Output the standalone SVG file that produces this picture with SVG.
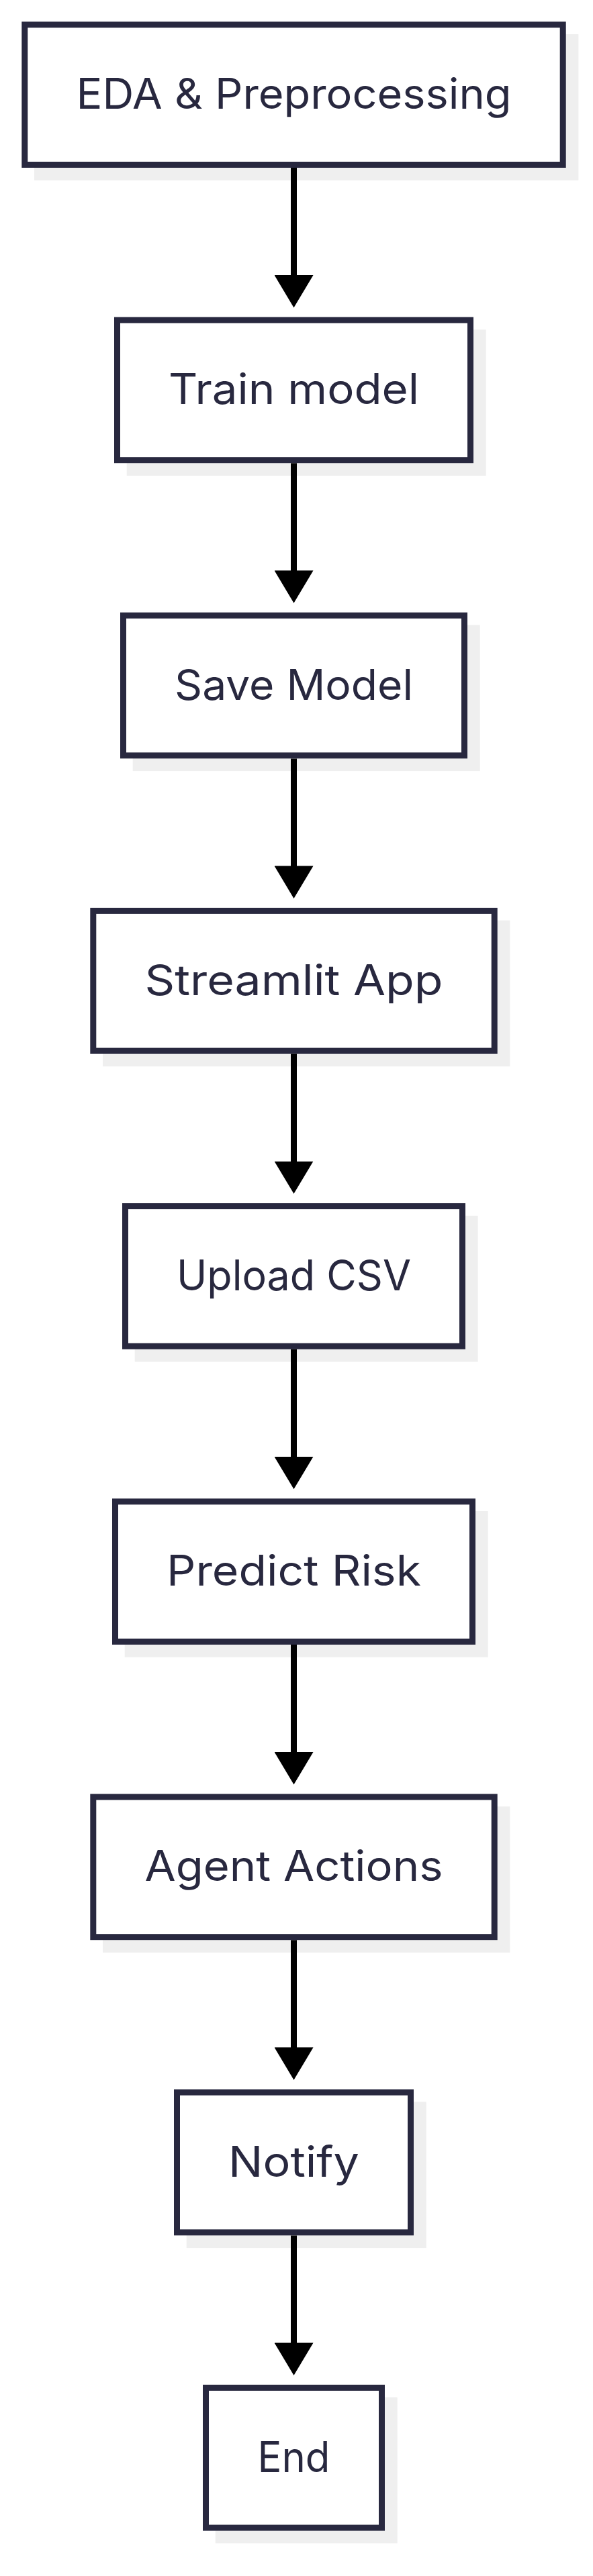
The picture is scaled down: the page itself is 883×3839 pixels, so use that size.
<svg xmlns="http://www.w3.org/2000/svg" width="883" height="3839" viewBox="0 0 883 3839">
<style>
.bg{fill:#ffffff}
.shadow{fill:#efefef;stroke:none}
.box{fill:#ffffff;stroke:#28283f;stroke-width:9}
.label{font-family:Inter,"Noto Sans","Liberation Sans",sans-serif;font-size:63px;fill:#28283f;text-anchor:middle}
.edge{stroke:#000000;stroke-width:9;fill:none;stroke-linecap:butt}
</style>
<defs>
<marker id="arrow" markerUnits="userSpaceOnUse" markerWidth="49" markerHeight="58" refX="1" refY="29" orient="auto" viewBox="0 0 49 58">
<path d="M0,0 L48.5,29 L0,58 Z" fill="#000000"/>
</marker>
</defs>
<rect class="bg" x="0" y="0" width="883" height="3839"/>
<g id="node-eda">
<rect class="shadow" x="51" y="51" width="810.4" height="217.7"/>
<rect class="box" x="36.8" y="36.8" width="801.4" height="208.7"/>
<text class="label" x="437.5" y="162.2" textLength="648" lengthAdjust="spacingAndGlyphs">EDA &amp; Preprocessing</text>
</g>
<g id="node-train">
<rect class="shadow" x="188.7" y="491.2" width="535" height="217.7"/>
<rect class="box" x="174.5" y="477" width="526" height="208.7"/>
<text class="label" x="437.5" y="602.4" textLength="373" lengthAdjust="spacingAndGlyphs">Train model</text>
</g>
<g id="node-save">
<rect class="shadow" x="197.7" y="931.4" width="517" height="217.7"/>
<rect class="box" x="183.5" y="917.2" width="508" height="208.7"/>
<text class="label" x="437.5" y="1042.6" textLength="355" lengthAdjust="spacingAndGlyphs">Save Model</text>
</g>
<g id="node-streamlit">
<rect class="shadow" x="153" y="1371.6" width="606.4" height="217.7"/>
<rect class="box" x="138.8" y="1357.4" width="597.4" height="208.7"/>
<text class="label" x="437.5" y="1482.8" textLength="444" lengthAdjust="spacingAndGlyphs">Streamlit App</text>
</g>
<g id="node-upload">
<rect class="shadow" x="200.7" y="1811.8" width="511" height="217.7"/>
<rect class="box" x="186.5" y="1797.6" width="502" height="208.7"/>
<text class="label" x="437.5" y="1923" textLength="349" lengthAdjust="spacingAndGlyphs">Upload CSV</text>
</g>
<g id="node-predict">
<rect class="shadow" x="185.7" y="2252" width="541" height="217.7"/>
<rect class="box" x="171.5" y="2237.8" width="532" height="208.7"/>
<text class="label" x="437.5" y="2363.2" textLength="379" lengthAdjust="spacingAndGlyphs">Predict Risk</text>
</g>
<g id="node-agent">
<rect class="shadow" x="153" y="2692.2" width="606.4" height="217.7"/>
<rect class="box" x="138.8" y="2678" width="597.4" height="208.7"/>
<text class="label" x="437.5" y="2803.4" textLength="444" lengthAdjust="spacingAndGlyphs">Agent Actions</text>
</g>
<g id="node-notify">
<rect class="shadow" x="277.7" y="3132.4" width="357" height="217.7"/>
<rect class="box" x="263.5" y="3118.2" width="348" height="208.7"/>
<text class="label" x="437.5" y="3243.6" textLength="195" lengthAdjust="spacingAndGlyphs">Notify</text>
</g>
<g id="node-end">
<rect class="shadow" x="320.7" y="3572.6" width="271" height="217.7"/>
<rect class="box" x="306.5" y="3558.4" width="262" height="208.7"/>
<text class="label" x="437.5" y="3683.8" textLength="108" lengthAdjust="spacingAndGlyphs">End</text>
</g>
<g id="connectors">
<line class="edge" x1="437.5" y1="250" x2="437.5" y2="411" marker-end="url(#arrow)"/>
<line class="edge" x1="437.5" y1="690.2" x2="437.5" y2="851.2" marker-end="url(#arrow)"/>
<line class="edge" x1="437.5" y1="1130.4" x2="437.5" y2="1291.4" marker-end="url(#arrow)"/>
<line class="edge" x1="437.5" y1="1570.6" x2="437.5" y2="1731.6" marker-end="url(#arrow)"/>
<line class="edge" x1="437.5" y1="2010.8" x2="437.5" y2="2171.8" marker-end="url(#arrow)"/>
<line class="edge" x1="437.5" y1="2451" x2="437.5" y2="2612" marker-end="url(#arrow)"/>
<line class="edge" x1="437.5" y1="2891.2" x2="437.5" y2="3052.2" marker-end="url(#arrow)"/>
<line class="edge" x1="437.5" y1="3331.4" x2="437.5" y2="3492.4" marker-end="url(#arrow)"/>
</g>
</svg>
